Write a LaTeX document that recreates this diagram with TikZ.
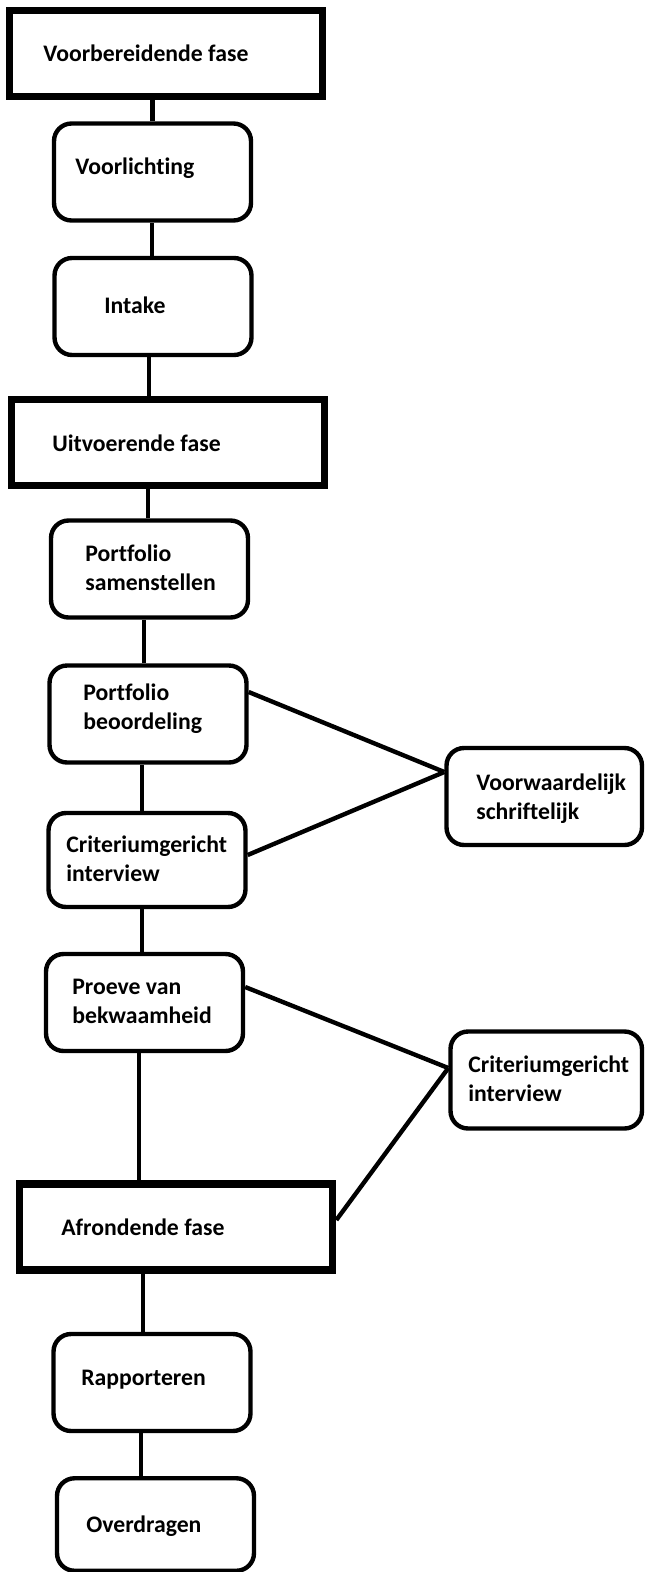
\documentclass[tikz,border=0pt]{standalone}
\usepackage{fontspec}
\setmainfont{Carlito}[Ligatures=NoCommon]
\tikzset{
	fase/.style={draw, line width=4.4pt, minimum width=6.26cm, minimum height=1.72cm, inner sep=0pt},
	stap/.style={draw, line width=2.5pt, rounded corners=0.35cm, minimum width=3.94cm, minimum height=1.94cm, inner sep=0pt},
	tekst/.style={anchor=west, inner sep=0pt, align=left, font=\fontsize{13.5}{16.5}\selectfont\bfseries},
	lijn/.style={line width=2.5pt}
}
\begin{document}
\begin{tikzpicture}[x=0.02cm,y=-0.02cm]
			\useasboundingbox (0,0) rectangle (645,1572);
			% voorbereidende fase
			\node[fase] (vf) at (166,53.5) {};
			\node[tekst] (vf-t) at (43,53) {Voorbereidende fase};
			\node[stap] (vl) at (152.5,172) {};
			\node[tekst] (vl-t) at (75,168) {Voorlichting};
			\node[stap] (ik) at (153,306.5) {};
			\node[tekst] (ik-t) at (104,305) {Intake};
			% uitvoerende fase
			\node[fase] (uf) at (168,442.5) {};
			\node[tekst] (uf-t) at (52,443) {Uitvoerende fase};
			\node[stap] (ps) at (149.5,569) {};
			\node[tekst] (ps-t) at (85,567.5) {Portfolio\\samenstellen};
			\node[stap] (pb) at (148,714) {};
			\node[tekst] (pb-t) at (83,708.5) {Portfolio\\beoordeling};
			\node[stap,minimum height=1.88cm] (ci) at (147,860) {};
			\node[tekst] (ci-t) at (66,859) {Criteriumgericht\\interview};
			\node[stap,minimum width=3.91cm] (vs) at (544.25,796.5) {};
			\node[tekst] (vs-t) at (476,798.5) {Voorwaardelijk\\schriftelijk};
			\node[stap] (pv) at (144.5,1002.5) {};
			\node[tekst] (pv-t) at (72,1001) {Proeve van\\bekwaamheid};
			\node[stap,minimum width=3.83cm] (ci2) at (546.25,1080) {};
			\node[tekst] (ci2-t) at (468,1079) {Criteriumgericht\\interview};
			% afrondende fase
			\node[fase] (af) at (176,1226.75) {};
			\node[tekst] (af-t) at (61,1227) {Afrondende fase};
			\node[stap] (ra) at (152,1382.5) {};
			\node[tekst] (ra-t) at (81,1380) {Rapporteren};
			\node[stap,minimum height=1.85cm] (ov) at (155.5,1524.5) {};
			\node[tekst] (ov-t) at (86,1526) {Overdragen};
			
			\foreach \a/\b/\s in {vf/vl/0,vl/ik/-0.02,ik/uf/-0.38,uf/ps/-0.03,ps/pb/-0.08,pb/ci/-0.1,ci/pv/-0.05,pv/af/-0.74,af/ra/-0.18,ra/ov/-0.29}{
				\draw [lijn] ([xshift=\s cm]\b.north)--([xshift=\s cm]\b.north |- \a.south);
			}
			
			\coordinate (vs-in) at ([yshift=0.49cm]vs.west);
			\coordinate (ci2-in) at ([yshift=0.24cm]ci2.west);
			\draw [lijn] ([yshift=0.44cm]pb.east)--(vs-in);
			\draw [lijn] ([yshift=0.1cm]ci.east)--(vs-in);
			\draw [lijn] ([yshift=0.31cm]pv.east)--(ci2-in);
			\draw [lijn] ([yshift=0.135cm]af.east)--(ci2-in);
			\end{tikzpicture}
\end{document}
